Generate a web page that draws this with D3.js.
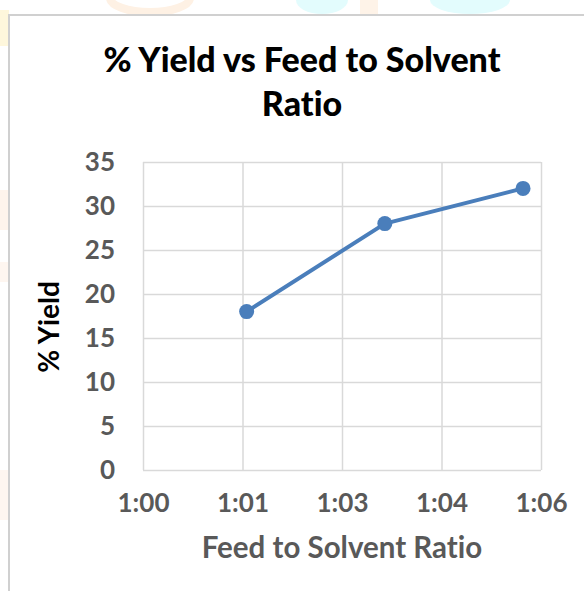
<!DOCTYPE html>
<html>
<head>
<meta charset="utf-8">
<script src="https://cdn.jsdelivr.net/npm/d3@7"></script>
<style>
  html, body { margin: 0; padding: 0; background: #ffffff; }
  svg { display: block; }
  text { font-variant-ligatures: none; font-feature-settings: "liga" 0, "clig" 0; }
</style>
</head>
<body>
<svg id="chart" width="584" height="591"></svg>
<script>
// ---- data ----
// x values are minutes past 1:00 (Excel read the ratios as times)
const xValues = [1.5, 3.5, 5.5];
const yValues = [18, 28, 32];
const xTickValues = [0, 1.44, 2.88, 4.32, 5.76];
const xTickLabels = ["1:00", "1:01", "1:03", "1:04", "1:06"];
const yTickValues = [0, 5, 10, 15, 20, 25, 30, 35];
const titleLines = ["% Yield vs Feed to Solvent", "Ratio"];
const xTitle = "Feed to Solvent Ratio";
const yTitle = "% Yield";

const svg = d3.select("#chart");
const W = 584, H = 591;
const font = "Lato, 'Open Sans', sans-serif";

// faint background watermark (page behind the chart)
const wm = svg.append("g");
wm.append("ellipse").attr("cx", 150).attr("cy", -2).attr("rx", 40).attr("ry", 14)
  .attr("fill", "none").attr("stroke", "#fef1e4").attr("stroke-width", 8);
wm.append("ellipse").attr("cx", 322).attr("cy", 0).attr("rx", 26).attr("ry", 14).attr("fill", "#e3fcfd");
wm.append("rect").attr("x", 360).attr("y", 0).attr("width", 18).attr("height", 14).attr("fill", "#fef3e8");
wm.append("ellipse").attr("cx", 470).attr("cy", 0).attr("rx", 40).attr("ry", 14).attr("fill", "#e3fcfd");
wm.append("rect").attr("x", 0).attr("y", 10).attr("width", 9).attr("height", 36).attr("fill", "#fef7dc");
wm.append("rect").attr("x", 0).attr("y", 190).attr("width", 9).attr("height", 40).attr("fill", "#fef4ec");
wm.append("rect").attr("x", 0).attr("y", 262).attr("width", 9).attr("height", 20).attr("fill", "#fef6f0");
wm.append("rect").attr("x", 0).attr("y", 470).attr("width", 9).attr("height", 50).attr("fill", "#fef6f0");

// chart area
svg.append("rect").attr("x", 9).attr("y", 15).attr("width", W).attr("height", H)
  .attr("fill", "#ffffff").attr("stroke", "#d0d0d0").attr("stroke-width", 2);

const plot = { left: 143, right: 541, top: 162, bottom: 470 };
const x = d3.scaleLinear().domain([0, 5.76]).range([plot.left, plot.right]);
const y = d3.scaleLinear().domain([0, 35]).range([plot.bottom, plot.top]);

// x axis with vertical gridlines
const gx = svg.append("g").attr("transform", `translate(0,${plot.bottom})`)
  .call(d3.axisBottom(x).tickValues(xTickValues)
    .tickFormat((d, i) => xTickLabels[i])
    .tickSizeInner(-(plot.bottom - plot.top)).tickSizeOuter(0).tickPadding(24));
gx.select(".domain").remove();
gx.selectAll(".tick line").attr("stroke", "#d9d9d9").attr("stroke-width", 1.5);
gx.selectAll(".tick text").attr("fill", "#595959").style("font-family", font)
  .style("font-size", "26px").style("font-weight", "bold");

// y axis with horizontal gridlines
const gy = svg.append("g").attr("transform", `translate(${plot.left},0)`)
  .call(d3.axisLeft(y).tickValues(yTickValues)
    .tickSizeInner(-(plot.right - plot.left)).tickSizeOuter(0).tickPadding(28));
gy.select(".domain").remove();
gy.selectAll(".tick line").attr("stroke", "#d9d9d9").attr("stroke-width", 1.5);
gy.selectAll(".tick text").attr("fill", "#595959").style("font-family", font)
  .style("font-size", "26px").style("font-weight", "bold");

// series
const pts = xValues.map((v, i) => [v, yValues[i]]);
svg.append("path").datum(pts)
  .attr("fill", "none").attr("stroke", "#4a7ebb").attr("stroke-width", 4)
  .attr("stroke-linejoin", "round")
  .attr("d", d3.line().x(d => x(d[0])).y(d => y(d[1])));
svg.append("g").selectAll("circle").data(pts).join("circle")
  .attr("cx", d => x(d[0])).attr("cy", d => y(d[1])).attr("r", 7.5)
  .attr("fill", "#4a7ebb");

// titles
const t = svg.append("text").attr("text-anchor", "middle")
  .style("font-family", font).style("font-weight", "900").style("font-size", "34px")
  .attr("fill", "#000000");
titleLines.forEach((s, i) => {
  t.append("tspan").attr("x", 302).attr("y", 72 + i * 44).text(s);
});

svg.append("text").attr("x", 342).attr("y", 558).attr("text-anchor", "middle")
  .style("font-family", font).style("font-weight", "bold").style("font-size", "29.5px")
  .attr("fill", "#595959").text(xTitle);

svg.append("text").attr("transform", "translate(59,327) rotate(-90)").attr("text-anchor", "middle")
  .style("font-family", font).style("font-weight", "bold").style("font-size", "28px")
  .attr("fill", "#000000").text(yTitle);
</script>
</body>
</html>
